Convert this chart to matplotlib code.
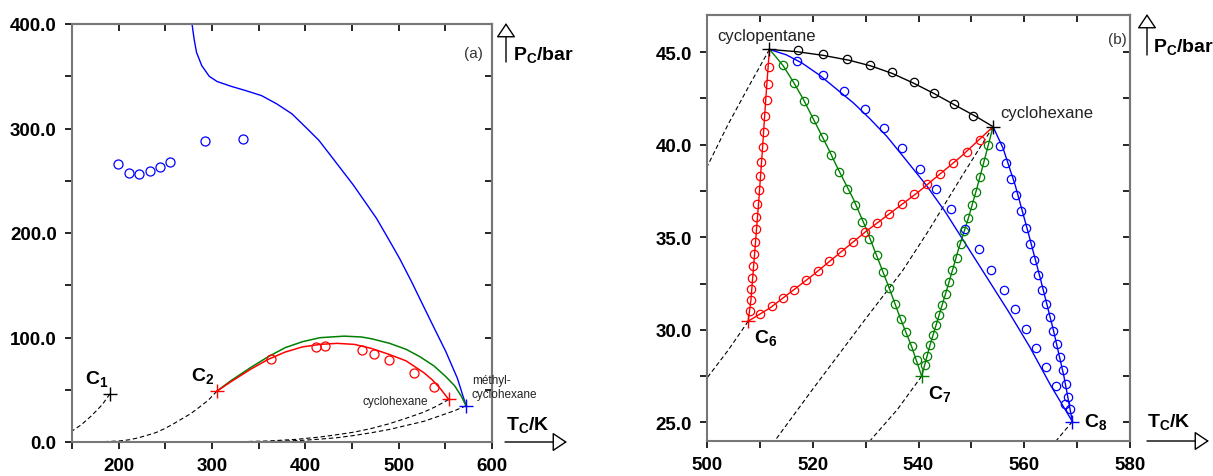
import matplotlib
matplotlib.use('Agg')
import matplotlib.pyplot as plt
import numpy as np

plt.rcParams['font.family'] = ['Liberation Sans', 'DejaVu Sans']
plt.rcParams['mathtext.fontset'] = 'custom'
plt.rcParams['mathtext.rm'] = 'Liberation Sans'
plt.rcParams['mathtext.it'] = 'Liberation Sans:italic'
plt.rcParams['mathtext.bf'] = 'Liberation Sans:bold'

# ---------------- panel (a) : methane / ethane + cycloalkanes ----------------
# critical points
crit_a_T = [190.6, 305.3, 553.6, 572.2]
crit_a_P = [46.0, 48.7, 40.7, 34.7]

# blue : calculated critical line C1 - methylcyclohexane
blue_a_T = [278.6, 280.8, 283.4, 289.0, 297.0, 305.4, 320.0, 336.0, 353.0, 369.3,
            385.7, 402.0, 414.6, 427.0, 439.3, 451.6, 464.0, 476.4, 488.8, 501.0,
            513.8, 526.0, 538.2, 550.5, 562.9, 572.2]
blue_a_P = [400.0, 385.7, 372.9, 360.2, 350.0, 345.0, 340.5, 336.3, 331.5, 323.6,
            314.0, 299.8, 288.6, 274.3, 260.0, 245.7, 229.8, 213.8, 194.7, 175.6,
            153.4, 131.0, 108.8, 86.6, 61.0, 34.7]
blue_a_expT = [199.5, 211.0, 221.7, 233.2, 244.4, 255.5, 293.0, 333.0]
blue_a_expP = [265.7, 257.8, 256.5, 259.0, 263.2, 268.0, 288.3, 290.2]

# red : C2 - cyclohexane
red_a_T = [305.3, 320.0, 341.5, 360.0, 378.5, 397.0, 415.6, 434.0, 452.6, 471.0,
           489.6, 508.0, 526.7, 536.0, 545.0, 553.6]
red_a_P = [48.7, 57.5, 69.7, 79.0, 86.1, 91.0, 93.4, 94.4, 93.4, 89.5,
           83.9, 77.6, 66.5, 59.5, 50.7, 40.7]
red_a_expT = [363.0, 411.7, 421.6, 461.0, 473.9, 490.0, 515.9, 538.2]
red_a_expP = [79.2, 91.3, 92.0, 87.8, 84.0, 78.6, 65.6, 52.5]

# green : C2 - methylcyclohexane
green_a_T = [305.3, 320.0, 341.5, 360.0, 378.5, 397.0, 415.6, 441.5, 460.0, 471.0,
             490.0, 508.0, 523.0, 537.8, 550.0, 560.0, 567.0, 572.2]
green_a_P = [48.7, 58.5, 71.3, 81.5, 90.3, 96.0, 99.8, 101.3, 100.5, 98.8,
             94.5, 88.7, 81.5, 72.8, 63.0, 53.8, 44.0, 34.7]

# vapour pressure curves (dashed)
vp_c1_T = [190.6, 182.2, 171.1, 160.0, 150.0]
vp_c1_P = [46.0, 35.5, 25.3, 16.5, 10.5]
vp_c2_T = [305.3, 296.0, 286.0, 277.0, 267.4, 258.0, 249.0, 240.0, 230.0, 221.0,
           212.0, 200.7, 180.0, 150.0]
vp_c2_P = [48.7, 40.0, 33.0, 27.0, 22.0, 17.0, 12.7, 9.0, 6.3, 4.0,
           2.2, 1.0, 0.2, 0.0]
vp_chx_T = [553.6, 540.0, 526.7, 508.0, 489.6, 471.0, 452.6, 434.0, 415.6, 390.0,
            360.0, 330.0, 300.0, 150.0]
vp_chx_P = [40.7, 34.0, 28.5, 22.7, 17.4, 13.0, 9.5, 7.0, 4.75, 2.5,
            0.95, 0.3, 0.1, 0.0]
vp_mch_T = [572.2, 560.0, 545.0, 527.0, 508.0, 490.0, 471.0, 452.0, 434.0, 415.0,
            397.0, 375.0, 350.0, 300.0, 150.0]
vp_mch_P = [34.7, 30.0, 25.3, 19.8, 15.8, 12.0, 8.9, 6.2, 4.1, 2.7,
            1.6, 0.8, 0.3, 0.05, 0.0]

# ---------------- panel (b) : cyclopentane / cyclohexane + n-alkanes ----------------
cp_T, cp_P = 511.8, 45.14      # cyclopentane
ch_T, ch_P = 554.1, 40.97      # cyclohexane
c6_T, c6_P = 507.8, 30.47
c7_T, c7_P = 540.6, 27.5
c8_T, c8_P = 569.1, 25.05

black_T = [511.8, 517.0, 522.0, 527.0, 531.0, 535.0, 539.0, 543.0, 547.0, 551.0, 554.1]
black_P = [45.14, 45.02, 44.82, 44.55, 44.25, 43.85, 43.33, 42.75, 42.12, 41.5, 40.97]
black_expT = [517.3, 521.9, 526.5, 530.9, 535.0, 539.1, 543.0, 546.7, 550.4]
black_expP = [45.09, 44.89, 44.64, 44.31, 43.9, 43.38, 42.8, 42.18, 41.57]

red1_T = [507.8, 508.3, 509.0, 509.8, 510.5, 511.1, 511.8]
red1_P = [30.47, 31.6, 34.1, 37.0, 39.8, 42.4, 45.14]
red1_expT = [511.7, 511.5, 511.3, 511.0, 510.75, 510.5, 510.2, 510.0, 509.8, 509.5,
             509.3, 509.2, 509.0, 508.9, 508.7, 508.5, 508.4, 508.3, 508.1]
red1_expP = [44.19, 43.27, 42.42, 41.53, 40.69, 39.86, 39.04, 38.32, 37.56, 36.82,
             36.12, 35.43, 34.77, 34.1, 33.45, 32.82, 32.18, 31.59, 31.03]

red2_T = [507.8, 512.0, 520.0, 530.0, 540.0, 548.0, 554.1]
red2_P = [30.47, 31.2, 32.95, 35.3, 37.45, 39.35, 40.97]
red2_expT = [510.1, 512.3, 514.4, 516.5, 518.7, 520.9, 523.1, 525.4, 527.6, 529.8,
             532.1, 534.4, 536.8, 539.2, 541.7, 544.1, 546.6, 549.1, 551.6]
red2_expP = [30.88, 31.3, 31.71, 32.17, 32.69, 33.18, 33.7, 34.22, 34.77, 35.31,
             35.79, 36.28, 36.79, 37.31, 37.85, 38.39, 38.99, 39.58, 40.25]

green1_T = [511.8, 513.0, 514.4, 516.3, 518.2, 519.8, 521.4, 523.0, 524.5, 526.1,
            527.7, 529.9, 532.1, 534.4, 536.6, 538.7, 540.6]
green1_P = [45.14, 44.75, 44.26, 43.4, 42.46, 41.56, 40.66, 39.75, 38.85, 37.95,
            37.05, 35.6, 34.0, 32.3, 30.6, 29.1, 27.5]
green1_expT = [514.3, 516.5, 518.4, 520.2, 521.9, 523.5, 525.0, 526.5, 528.0, 529.3,
               530.7, 532.1, 533.3, 534.4, 535.5, 536.6, 537.7, 538.7, 539.7]
green1_expP = [44.28, 43.34, 42.35, 41.39, 40.4, 39.44, 38.52, 37.62, 36.73, 35.83,
               34.93, 34.04, 33.12, 32.24, 31.39, 30.6, 29.87, 29.13, 28.39]

green2_T = [540.6, 542.2, 543.9, 545.8, 547.5, 549.4, 551.0, 552.4, 554.1]
green2_P = [27.5, 29.2, 30.8, 32.6, 34.3, 36.0, 37.6, 39.1, 40.97]
green2_expT = [541.2, 541.7, 542.2, 542.8, 543.4, 543.9, 544.5, 545.2, 545.8, 546.4,
               547.2, 548.0, 548.6, 549.4, 550.1, 550.8, 551.6, 552.4, 553.2]
green2_expP = [28.09, 28.61, 29.21, 29.73, 30.25, 30.78, 31.34, 31.93, 32.56, 33.21,
               33.9, 34.62, 35.32, 36.03, 36.75, 37.47, 38.27, 39.08, 39.98]

blue1_T = [511.8, 515.0, 518.0, 521.3, 524.5, 527.7, 530.8, 534.0, 537.0, 541.5,
           545.0, 549.0, 553.0, 557.0, 561.0, 565.0, 569.1]
blue1_P = [45.14, 44.85, 44.4, 43.75, 43.0, 42.25, 41.4, 40.45, 39.4, 37.8,
           36.4, 34.6, 32.8, 31.0, 29.1, 27.0, 25.05]
blue1_expT = [517.1, 521.9, 526.0, 529.8, 533.5, 536.9, 540.2, 543.3, 546.1, 548.7,
              551.4, 553.8, 556.1, 558.2, 560.3, 562.3, 564.2, 566.0, 567.7]
blue1_expP = [44.51, 43.74, 42.89, 41.93, 40.88, 39.8, 38.68, 37.6, 36.52, 35.43,
              34.35, 33.23, 32.17, 31.12, 30.05, 29.0, 27.98, 26.99, 26.01]

blue2_T = [569.1, 567.5, 565.5, 563.2, 560.8, 558.3, 556.0, 554.1]
blue2_P = [25.05, 27.5, 30.0, 32.6, 35.2, 37.8, 39.8, 40.97]
blue2_expT = [555.4, 556.5, 557.5, 558.5, 559.4, 560.3, 561.0, 561.9, 562.6, 563.4,
              564.1, 564.8, 565.5, 566.1, 566.7, 567.4, 567.9, 568.3, 568.7]
blue2_expP = [39.95, 39.0, 38.14, 37.27, 36.41, 35.51, 34.64, 33.79, 32.94, 32.13,
              31.41, 30.67, 29.95, 29.22, 28.52, 27.82, 27.09, 26.35, 25.72]

vp_cp_T = [511.8, 508.0, 504.0, 500.0]
vp_cp_P = [45.14, 43.2, 41.1, 38.8]
vp_ch_T = [554.1, 548.0, 542.0, 537.0, 530.0, 520.0, 512.8]
vp_ch_P = [40.97, 38.2, 35.4, 33.2, 30.6, 26.8, 24.0]
vp_c6_T = [507.8, 504.0, 500.0]
vp_c6_P = [30.47, 28.9, 27.4]
vp_c7_T = [540.6, 536.0, 530.8]
vp_c7_P = [27.5, 25.7, 24.0]
vp_c8_T = [569.1, 566.0]
vp_c8_P = [25.05, 24.0]

W, H = 1213, 477
fig = plt.figure(figsize=(W / 100, H / 100), dpi=100)
axa = fig.add_axes([72 / W, 34 / H, 420 / W, 418 / H])
axb = fig.add_axes([707 / W, 35 / H, 423 / W, 426 / H])

dash = dict(color='black', lw=0.8, ls=(0, (4, 2.5)))
circ = dict(ls='none', marker='o', mfc='none', mew=0.9)


def frame(ax, xt, xl, yt, yl):
    ax.set_xticks(xt, xl)
    ax.set_yticks(yt, yl)
    ax.tick_params(direction='out', length=5, width=1.2, color='black',
                   labelsize=13.5, pad=6)
    for lab in ax.get_xticklabels() + ax.get_yticklabels():
        lab.set_fontweight('bold')
    for s in ax.spines.values():
        s.set_color('#777777')
        s.set_linewidth(1.5)
    top = ax.secondary_xaxis('top')
    top.set_xticks(xt, [''] * len(xt))
    top.tick_params(direction='in', length=5, width=1.2, color='black')
    top.spines['top'].set_color('#777777')
    top.spines['top'].set_linewidth(1.5)
    right = ax.secondary_yaxis('right')
    right.set_yticks(yt, [''] * len(yt))
    right.tick_params(direction='in', length=5, width=1.2, color='black')
    right.spines['right'].set_color('#777777')
    right.spines['right'].set_linewidth(1.5)


# ---- panel (a)
ax = axa
ax.plot(vp_c1_T, vp_c1_P, **dash)
ax.plot(vp_c2_T, vp_c2_P, **dash)
ax.plot(vp_chx_T, vp_chx_P, **dash)
ax.plot(vp_mch_T, vp_mch_P, **dash)
ax.plot(blue_a_T, blue_a_P, color='blue', lw=1)
ax.plot(green_a_T, green_a_P, color='green', lw=1.1)
ax.plot(red_a_T, red_a_P, color='red', lw=1.1)
ax.plot(blue_a_expT, blue_a_expP, color='blue', ms=6.5, **circ)
ax.plot(red_a_expT, red_a_expP, color='red', ms=6.5, **circ)
for T, P, c in zip(crit_a_T, crit_a_P, ['black', 'red', 'red', 'blue']):
    ax.plot(T, P, marker='+', color=c, ms=10, mew=1)
ax.set_xlim(150, 600)
ax.set_ylim(0, 400)
xt = list(range(150, 601, 50))
yt = list(range(0, 401, 50))
frame(ax, xt, [str(t) if t % 100 == 0 else '' for t in xt],
      yt, ['%.1f' % t if t % 100 == 0 else '' for t in yt])
ax.text(164, 61, r'$\mathbf{C_1}$', fontsize=14, va='center')
ax.text(278, 64, r'$\mathbf{C_2}$', fontsize=14, va='center')
ax.text(496, 39.5, 'cyclohexane', fontsize=8.5, ha='center', va='center', color='#222222')
ax.text(578.5, 52.5, 'méthyl-\ncyclohexane', fontsize=8.5, ha='left', va='center',
        color='#222222', linespacing=1.2, clip_on=False)
ax.text(590, 372, '(a)', fontsize=11, ha='right', va='center', color='#333333')

# ---- panel (b)
ax = axb
for vt, vp in [(vp_cp_T, vp_cp_P), (vp_ch_T, vp_ch_P), (vp_c6_T, vp_c6_P),
               (vp_c7_T, vp_c7_P), (vp_c8_T, vp_c8_P)]:
    ax.plot(vt, vp, **dash)
ax.plot(black_T, black_P, color='black', lw=1)
ax.plot(blue1_T, blue1_P, color='blue', lw=1)
ax.plot(blue2_T, blue2_P, color='blue', lw=1)
ax.plot(green1_T, green1_P, color='green', lw=1)
ax.plot(green2_T, green2_P, color='green', lw=1)
ax.plot(red1_T, red1_P, color='red', lw=1)
ax.plot(red2_T, red2_P, color='red', lw=1)
ax.plot(black_expT, black_expP, color='black', ms=6, **circ)
ax.plot(blue1_expT, blue1_expP, color='blue', ms=6, **circ)
ax.plot(blue2_expT, blue2_expP, color='blue', ms=6, **circ)
ax.plot(green1_expT, green1_expP, color='green', ms=6, **circ)
ax.plot(green2_expT, green2_expP, color='green', ms=6, **circ)
ax.plot(red1_expT, red1_expP, color='red', ms=6, **circ)
ax.plot(red2_expT, red2_expP, color='red', ms=6, **circ)
for T, P, c in [(cp_T, cp_P, 'black'), (ch_T, ch_P, 'black'), (c6_T, c6_P, 'red'),
                (c7_T, c7_P, 'green'), (c8_T, c8_P, 'blue')]:
    ax.plot(T, P, marker='+', color=c, ms=10, mew=1)
ax.set_xlim(500, 580)
ax.set_ylim(24, 47)
xt = list(range(500, 581, 10))
yt = list(np.arange(25, 46, 2.5))
frame(ax, xt, [str(t) if t % 20 == 0 else '' for t in xt],
      yt, ['%.1f' % t if t % 5 == 0 else '' for t in yt])
ax.text(511.2, 45.9, 'cyclopentane', fontsize=12, ha='center', va='center', color='#222222')
ax.text(555.4, 41.75, 'cyclohexane', fontsize=12, ha='left', va='center', color='#222222')
ax.text(508.9, 29.6, r'$\mathbf{C_6}$', fontsize=14, va='center')
ax.text(541.8, 26.6, r'$\mathbf{C_7}$', fontsize=14, va='center')
ax.text(571.3, 25.07, r'$\mathbf{C_8}$', fontsize=14, va='center')
ax.text(579.4, 45.7, '(b)', fontsize=11, ha='right', va='center', color='#333333')

# axis arrows and titles (placed in figure pixels)
arrow = dict(arrowstyle='-|>,head_length=0.45,head_width=0.3', fc='white', ec='black',
             lw=1, mutation_scale=20, shrinkA=0, shrinkB=0)


def px(x, y):
    return (x / W, 1 - y / H)


for x0, y0, x1, y1 in [(506, 63, 506, 24), (505, 443, 567, 443),
                       (1147, 56, 1147, 15), (1147, 442, 1209, 442)]:
    fig.add_artist(matplotlib.patches.FancyArrowPatch(px(x0, y0), px(x1, y1),
                                                      transform=fig.transFigure, **arrow))

fig.text(*px(513, 55), r'$\mathbf{P_C/bar}$', fontsize=14, va='center')
fig.text(*px(506, 425), r'$\mathbf{T_C/K}$', fontsize=14, va='center')
fig.text(*px(1153, 47), r'$\mathbf{P_C/bar}$', fontsize=14, va='center')
fig.text(*px(1147, 422), r'$\mathbf{T_C/K}$', fontsize=14, va='center')

fig.savefig('out.png', dpi=100)
